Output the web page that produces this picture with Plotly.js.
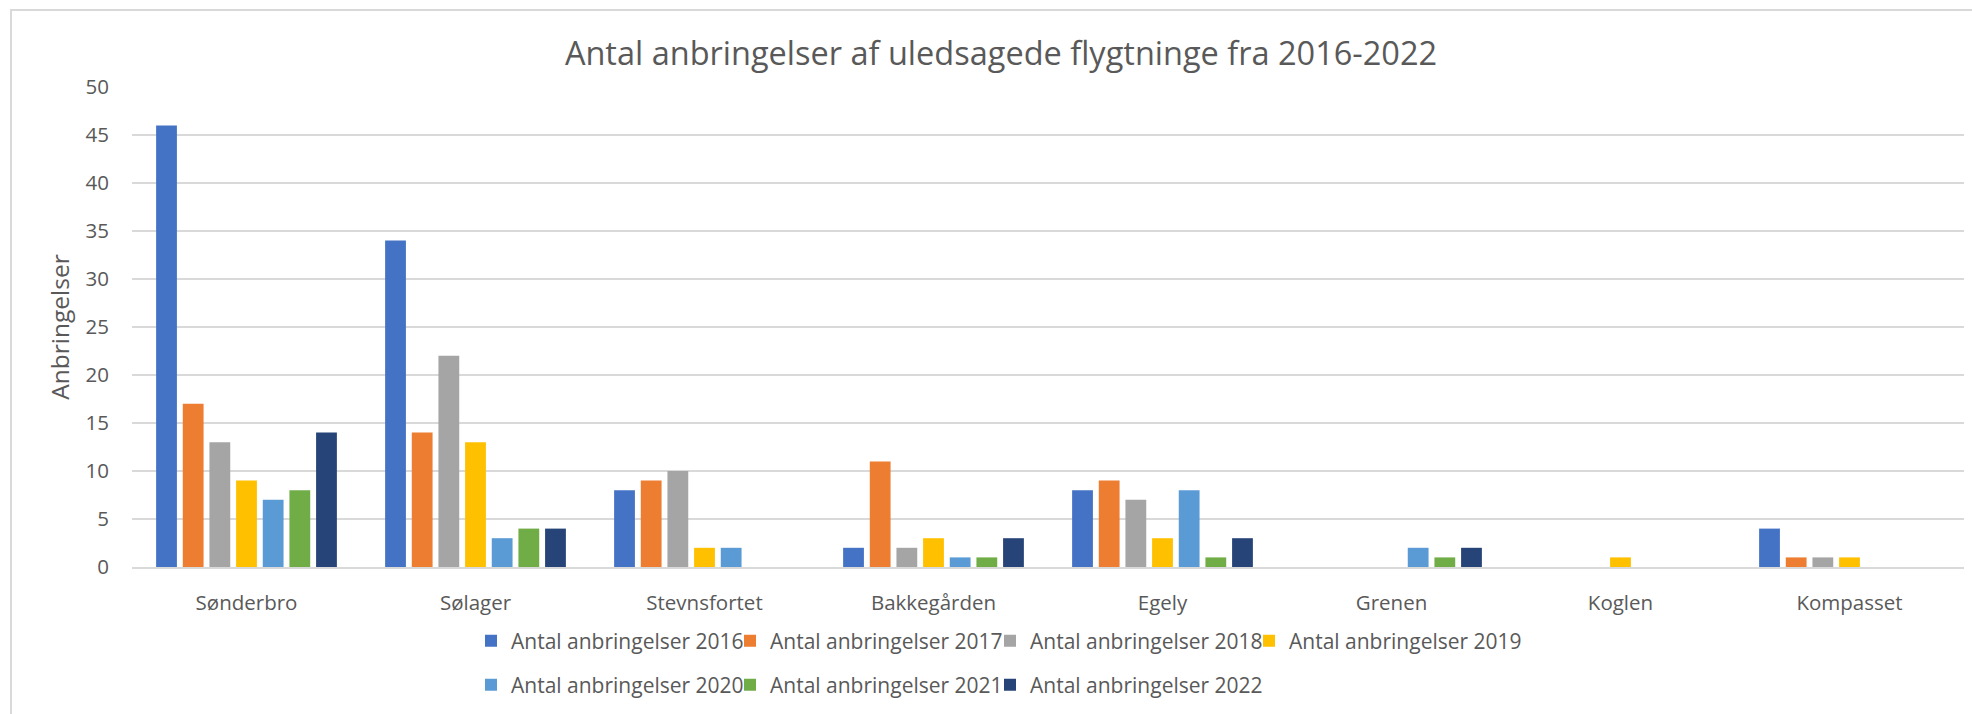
<!DOCTYPE html>
<html>
<head>
<meta charset="utf-8">
<script src="https://cdn.plot.ly/plotly-3.0.1.min.js"></script>
<style>
  html, body { margin:0; padding:0; background:#fff; overflow:hidden; }
  #chart { width:1972px; height:714px; }
  #frame { position:absolute; left:10px; top:9px; width:2100px; height:900px; border:2px solid #d9d9d9; pointer-events:none; }
</style>
</head>
<body>
<div id="chart"></div>
<div id="frame"></div>
<script>
const categories = ["Sønderbro", "Sølager", "Stevnsfortet", "Bakkegården", "Egely", "Grenen", "Koglen", "Kompasset"];
const seriesNames = ["Antal anbringelser 2016", "Antal anbringelser 2017", "Antal anbringelser 2018", "Antal anbringelser 2019", "Antal anbringelser 2020", "Antal anbringelser 2021", "Antal anbringelser 2022"];
const v2016 = [46, 34, 8, 2, 8, null, null, 4];
const v2017 = [17, 14, 9, 11, 9, null, null, 1];
const v2018 = [13, 22, 10, 2, 7, null, null, 1];
const v2019 = [9, 13, 2, 3, 3, null, 1, 1];
const v2020 = [7, 3, 2, 1, 8, 2, null, null];
const v2021 = [8, 4, null, 1, 1, 1, null, null];
const v2022 = [14, 4, null, 3, 3, 2, null, null];
const yTicks = [0, 5, 10, 15, 20, 25, 30, 35, 40, 45, 50];

const colors = ["#4472C4", "#ED7D31", "#A5A5A5", "#FFC000", "#5B9BD5", "#70AD47", "#264478"];
const values = [v2016, v2017, v2018, v2019, v2020, v2021, v2022];

const W = 1972, H = 714;
const L = 132, R = 8, T = 87, B = 147;
const plotW = W - L - R, plotH = H - T - B;
const px2x = p => (p - L) / plotW;
const px2y = p => (H - B - p) / plotH;

const FONT = '"Open Sans", "Noto Sans", sans-serif';
const TXT = '#595959';

// legend entry layout (pixel positions of each entry start and row centre)
const legendCols = [471, 730, 990, 1249];
const legendRows = [641, 685];

const legendKey = i => (i === 0 ? 'legend' : 'legend' + (i + 1));

const traces = values.map((vals, i) => ({
  type: 'bar',
  name: seriesNames[i],
  x: categories,
  y: vals,
  marker: { color: colors[i], line: { width: 0 } },
  legend: legendKey(i),
  hoverinfo: 'x+y+name'
}));

const legendCommon = {
  orientation: 'h',
  xanchor: 'left',
  yanchor: 'middle',
  font: { family: FONT, size: 21, color: TXT },
  bgcolor: 'rgba(0,0,0,0)',
  borderwidth: 0,
  itemwidth: 30,
  traceorder: 'normal',
  itemclick: false,
  itemdoubleclick: false
};

const layout = {
  width: W, height: H,
  margin: { l: L, r: R, t: T, b: B, pad: 0 },
  paper_bgcolor: '#ffffff',
  plot_bgcolor: '#ffffff',
  font: { family: FONT, color: TXT },
  title: {
    text: 'Antal anbringelser af uledsagede flygtninge fra 2016-2022',
    font: { family: FONT, size: 32.5, color: TXT },
    xref: 'container', yref: 'container',
    x: 1001 / W, xanchor: 'center',
    y: 1 - 54 / H, yanchor: 'middle'
  },
  barmode: 'group',
  bargap: 0.185,
  bargroupgap: 0.22,
  xaxis: {
    type: 'category',
    showgrid: false,
    showline: true,
    linecolor: '#d9d9d9',
    linewidth: 2,
    ticks: '',
    tickfont: { family: FONT, size: 20.5, color: TXT },
    ticklabelstandoff: 16,
    fixedrange: true
  },
  yaxis: {
    range: [0, 50],
    tickvals: yTicks,
    ticktext: yTicks.map(String),
    showgrid: true,
    gridcolor: '#d9d9d9',
    gridwidth: 2,
    zeroline: false,
    showline: false,
    ticks: '',
    tickfont: { family: FONT, size: 20.5, color: TXT },
    ticklabelstandoff: 22,
    title: { text: 'Anbringelser', font: { family: FONT, size: 24.5, color: TXT }, standoff: 8 },
    fixedrange: true
  },
  showlegend: true
};

values.forEach((_, i) => {
  const col = i % 4, row = Math.floor(i / 4);
  layout[legendKey(i)] = Object.assign({}, legendCommon, {
    x: px2x(legendCols[col]),
    y: px2y(legendRows[row])
  });
});

Plotly.newPlot('chart', traces, layout, { displayModeBar: false, responsive: false });
</script>
</body>
</html>
